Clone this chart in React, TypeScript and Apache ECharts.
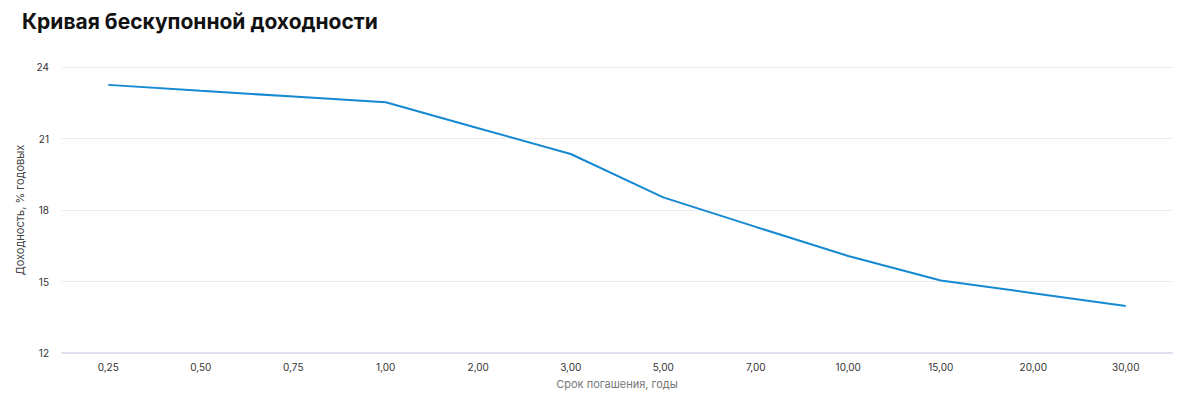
import React, { useEffect, useRef } from "react";
import * as echarts from "echarts";

const categories = ["0,25", "0,50", "0,75", "1,00", "2,00", "3,00", "5,00", "7,00", "10,00", "15,00", "20,00", "30,00"];
const yields = [23.25, 23.0, 22.76, 22.52, 21.43, 20.35, 18.53, 17.29, 16.07, 15.04, 14.51, 13.97];
const yTicks = { min: 12, max: 24, interval: 3 };

export default function App() {
  const ref = useRef<HTMLDivElement>(null);
  useEffect(() => {
    if (!ref.current) return;
    const chart = echarts.init(ref.current, undefined, { renderer: "svg" });
    chart.setOption({
      animation: false,
      backgroundColor: "#ffffff",
      title: {
        text: "Кривая бескупонной доходности",
        left: 17,
        top: 6,
        textStyle: { fontFamily: "Inter", fontWeight: 700, fontSize: 21, color: "#111111" },
      },
      grid: { left: 62, right: 28, top: 67, bottom: 40, outerBoundsMode: "none", containLabel: false },
      xAxis: {
        type: "category",
        data: categories,
        boundaryGap: true,
        name: "Срок погашения, годы",
        nameLocation: "middle",
        nameGap: 25,
        nameTextStyle: { fontFamily: "Inter", fontSize: 11, color: "#777777" },
        axisLine: { lineStyle: { color: "#dde1ee", width: 2 } },
        axisTick: { show: false },
        axisLabel: { fontFamily: "Inter", fontSize: 10, color: "#333333", margin: 9 },
        splitLine: { show: false },
      },
      yAxis: {
        type: "value",
        min: yTicks.min,
        max: yTicks.max,
        interval: yTicks.interval,
        name: "Доходность, % годовых",
        nameLocation: "middle",
        nameGap: 35,
        nameTextStyle: { fontFamily: "Inter", fontSize: 11, color: "#444444" },
        axisLine: { show: false },
        axisTick: { show: false },
        axisLabel: { fontFamily: "Inter", fontSize: 10, color: "#333333", margin: 13 },
        splitLine: { lineStyle: { color: "#ececec", width: 1 } },
      },
      series: [
        {
          type: "line",
          data: yields,
          showSymbol: false,
          symbol: "none",
          lineStyle: { color: "#1589d2", width: 2 },
          itemStyle: { color: "#1589d2" },
        },
      ],
    });
    return () => chart.dispose();
  }, []);
  return (
    <div
      ref={ref}
      style={{ position: "absolute", left: 0, top: 0, width: 1200, height: 393 }}
    />
  );
}
